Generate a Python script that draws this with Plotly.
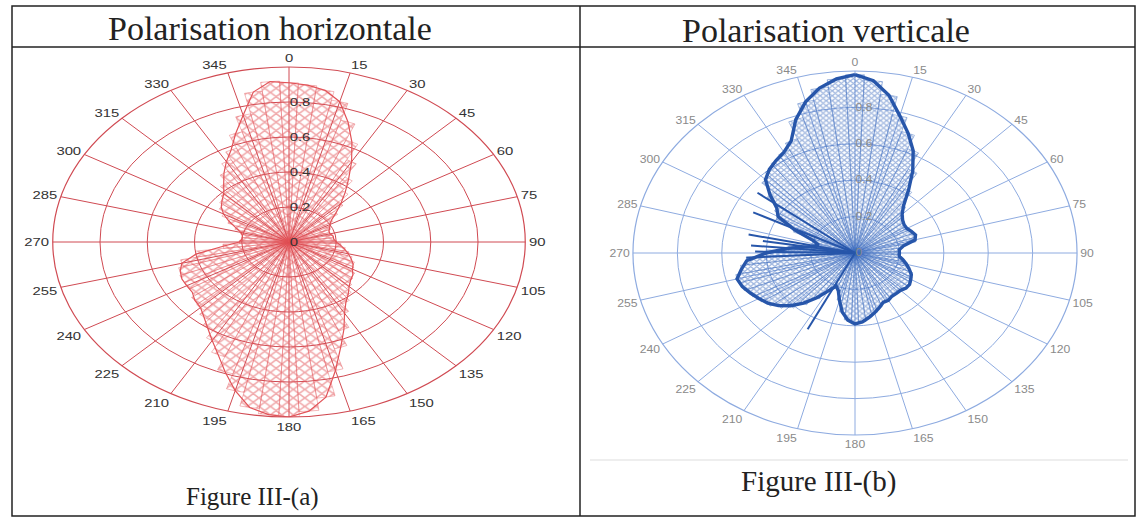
import plotly.graph_objects as go

# ---- data -------------------------------------------------------------
ANGLE_TICKS = list(range(0, 360, 15))
RADIAL_TICKS = [0, 0.2, 0.4, 0.6, 0.8]
RADIAL_LABELS = ["0", "0.2", "0.4", "0.6", "0.8"]

# sampling angles of the measured patterns (degrees, clockwise from north)
theta = list(range(0, 360, 5))

# horizontal polarisation, normalised amplitude
r_horiz = [
    0.91, 0.90, 0.88, 0.83, 0.73, 0.63, 0.53, 0.44, 0.37, 0.31, 0.26, 0.22,
    0.20, 0.19, 0.18, 0.18, 0.19, 0.19, 0.20, 0.22, 0.24, 0.26, 0.28, 0.30,
    0.31, 0.33, 0.34, 0.36, 0.39, 0.42, 0.47, 0.55, 0.64, 0.76, 0.90, 0.97,
    1.00, 0.99, 0.96, 0.88, 0.79, 0.71, 0.65, 0.60, 0.56, 0.53, 0.52, 0.50,
    0.50, 0.50, 0.49, 0.47, 0.40, 0.28, 0.21, 0.20, 0.20, 0.21, 0.24, 0.28,
    0.32, 0.35, 0.37, 0.39, 0.43, 0.48, 0.53, 0.58, 0.66, 0.75, 0.87, 0.92,
]

# vertical polarisation, normalised amplitude
r_vert = [
    0.98, 0.95, 0.88, 0.78, 0.70, 0.62, 0.52, 0.42, 0.34, 0.30, 0.28, 0.27,
    0.27, 0.28, 0.29, 0.28, 0.22, 0.20, 0.20, 0.20, 0.22, 0.24, 0.26, 0.28,
    0.29, 0.30, 0.30, 0.29, 0.29, 0.29, 0.30, 0.30, 0.32, 0.34, 0.36, 0.38,
    0.39, 0.37, 0.33, 0.27, 0.22, 0.20, 0.24, 0.30, 0.36, 0.41, 0.45, 0.48,
    0.50, 0.52, 0.54, 0.55, 0.52, 0.49, 0.40, 0.30, 0.20, 0.17, 0.20, 0.30,
    0.40, 0.43, 0.50, 0.57, 0.60, 0.62, 0.64, 0.68, 0.78, 0.86, 0.92, 0.96,
]

# isolated spikes of the vertical pattern
spike_theta = [207, 267, 271, 275, 279, 282, 296, 307]
spike_r = [0.47, 0.49, 0.45, 0.47, 0.42, 0.49, 0.51, 0.55]

# ---- page geometry (pixels) -------------------------------------------
W, H = 1137, 521
RED_GRID = "#d04a52"
RED_FILL = "#e25358"
BLUE_GRID = "#8eabe0"
BLUE_FILL = "#3a69bd"
BLUE_LINE = "#2756aa"

# (centre x, centre y, vertical radius, horizontal stretch) of each diagram
LEFT = (289, 242, 175, 1.35)
RIGHT = (855, 253, 182, 1.22)


def px(x):
    return x / W


def py(y):
    return 1 - y / H


def domain(cx, cy, rad):
    return dict(x=[px(cx - rad), px(cx + rad)], y=[py(cy + rad), py(cy - rad)])


def closed(vals):
    return list(vals) + [vals[0]]


fig = go.Figure()

# left: horizontal polarisation
fig.add_trace(go.Barpolar(
    r=r_horiz, theta=theta, width=[5] * len(theta), subplot="polar",
    marker=dict(color="rgba(0,0,0,0)",
                line=dict(color=RED_FILL, width=0.4),
                pattern=dict(shape="x", fgcolor=RED_FILL, bgcolor="rgba(0,0,0,0)",
                             size=6, solidity=0.42)),
    showlegend=False, hoverinfo="skip"))
fig.add_trace(go.Scatterpolar(
    r=closed(r_horiz), theta=closed(theta), mode="lines", subplot="polar",
    line=dict(color=RED_FILL, width=1.2), showlegend=False, hoverinfo="skip"))

# right: vertical polarisation
fig.add_trace(go.Barpolar(
    r=r_vert, theta=theta, width=[5] * len(theta), subplot="polar2",
    marker=dict(color="rgba(0,0,0,0)",
                line=dict(color=BLUE_FILL, width=0.4),
                pattern=dict(shape="x", fgcolor=BLUE_FILL, bgcolor="rgba(0,0,0,0)",
                             size=3.5, solidity=0.55)),
    showlegend=False, hoverinfo="skip"))
spk_r, spk_t = [], []
for a, v in zip(spike_theta, spike_r):
    spk_r += [0, v, None]
    spk_t += [a, a, None]
fig.add_trace(go.Scatterpolar(
    r=spk_r, theta=spk_t, mode="lines", subplot="polar2",
    line=dict(color=BLUE_LINE, width=2), showlegend=False, hoverinfo="skip"))
fig.add_trace(go.Scatterpolar(
    r=closed(r_vert), theta=closed(theta), mode="lines", subplot="polar2",
    line=dict(color=BLUE_LINE, width=3.4), showlegend=False, hoverinfo="skip"))


def polar_layout(dom, grid, txt, size):
    return dict(
        domain=dom, bgcolor="rgba(0,0,0,0)",
        angularaxis=dict(direction="clockwise", rotation=90,
                         tickmode="array", tickvals=ANGLE_TICKS,
                         ticktext=[str(a) for a in ANGLE_TICKS],
                         showline=True, linecolor=grid, linewidth=1.2,
                         gridcolor=grid, gridwidth=1, griddash="solid", ticks="",
                         tickfont=dict(family="Arial, Liberation Sans", size=size, color=txt)),
        radialaxis=dict(range=[0, 1], tickmode="array", tickvals=RADIAL_TICKS,
                        ticktext=RADIAL_LABELS, showline=False, angle=90,
                        tickangle=90, side="clockwise", ticks="",
                        gridcolor=grid, gridwidth=1,
                        tickfont=dict(family="Arial, Liberation Sans", size=size, color=txt)),
    )


LINE = dict(color="#222", width=1.5)
shapes = [
    dict(type="rect", xref="paper", yref="paper", x0=px(12), x1=px(1135), y0=py(516), y1=py(6),
         line=LINE),
    dict(type="line", xref="paper", yref="paper", x0=px(12), x1=px(1135), y0=py(47), y1=py(47),
         line=LINE),
    dict(type="line", xref="paper", yref="paper", x0=px(580), x1=px(580), y0=py(516), y1=py(6),
         line=LINE),
    dict(type="line", xref="paper", yref="paper", x0=px(590), x1=px(1128), y0=py(460), y1=py(460),
         line=dict(color="#dddddd", width=1)),
]

SERIF = "Liberation Serif, Times New Roman, serif"


def label(text, x, y, size):
    return dict(text=text, x=px(x), y=py(y), xref="paper", yref="paper",
                xanchor="center", yanchor="middle", showarrow=False,
                font=dict(family=SERIF, size=size, color="#222"))


annotations = [
    label("Polarisation horizontale", 270, 28, 34),
    label("Polarisation verticale", 826, 31, 34),
    label("Figure III-(a)", 252, 497, 25),
    label("Figure III-(b)", 818, 481, 29),
]

fig.update_layout(
    width=W, height=H, margin=dict(l=0, r=0, t=0, b=0),
    paper_bgcolor="white", plot_bgcolor="white",
    polar=polar_layout(domain(LEFT[0], LEFT[1], LEFT[2]), RED_GRID, "#333", 11),
    polar2=polar_layout(domain(RIGHT[0], RIGHT[1], RIGHT[2]), BLUE_GRID, "#8a8a8a", 10),
    shapes=shapes, annotations=annotations,
)

# the printed diagrams are elliptical: widen each polar subplot about its centre
post = """
var gd = document.getElementById('{plot_id}');
var specs = [['polar', %d, %.3f], ['polar2', %d, %.3f]];
function widen() {
  var css = document.createElement('style');
  css.textContent = '.polarlayer path {vector-effect: non-scaling-stroke;}';
  document.head.appendChild(css);
  specs.forEach(function (s) {
    var g = gd.querySelector('.polarlayer > g.' + s[0]);
    if (!g) return;
    var t = g.getAttribute('transform') || '';
    g.setAttribute('transform',
      'translate(' + s[1] + ',0) scale(' + s[2] + ',1) translate(' + (-s[1]) + ',0) ' + t);
  });
}
widen();
""" % (LEFT[0], LEFT[3], RIGHT[0], RIGHT[3])

fig.write_html("out.html", post_script=post)
